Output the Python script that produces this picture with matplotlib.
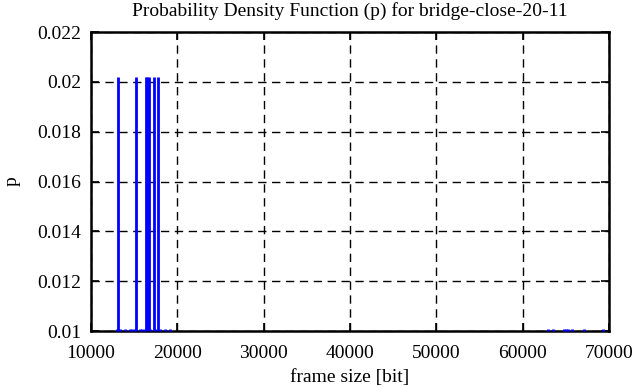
import numpy as np
import matplotlib.pyplot as plt

plt.rcParams['font.family'] = ['Liberation Serif', 'DejaVu Serif']

# frame sizes with a visible probability spike
frame_sizes = [13160, 15210, 16370, 16540, 16680, 17260, 17800]
probs = [0.0202, 0.0202, 0.0202, 0.0202, 0.0202, 0.0202, 0.0202]

# rare frame sizes, probability below the visible range
rare_sizes = [13010, 13360, 13940, 14520, 14800, 15100, 15680, 15900, 16260,
              16830, 17410, 17990, 18570, 19150,
              62940, 63510, 64790, 65000, 65250, 65710, 67100, 69300]
rare_probs = [0.0005] * len(rare_sizes)

xticks = [10000, 20000, 30000, 40000, 50000, 60000, 70000]
yticks = [0.01, 0.012, 0.014, 0.016, 0.018, 0.02, 0.022]

fig = plt.figure(figsize=(6.37, 3.87), dpi=100)
ax = fig.add_axes([0.1429, 0.1447, 0.8131, 0.7723])

ymin, ymax = 0.01, 0.022
ax.vlines(frame_sizes, 0, probs, color='#0000ff', lw=2, zorder=3)
# gnuplot leaves a small stub on the border for clipped impulses
stub = (ymax - ymin) * 0.008
ax.vlines(rare_sizes, ymin, ymin + stub, color='#0000ff', lw=2,
          zorder=3, clip_on=False)

ax.set_xlim(10000, 70000)
ax.set_ylim(ymin, ymax)
ax.set_xticks(xticks)
ax.set_yticks(yticks)
ax.set_yticklabels(['0.01', '0.012', '0.014', '0.016', '0.018', '0.02', '0.022'])
ax.grid(True, color='black', linestyle=(0, (6, 4)), linewidth=1)
ax.tick_params(direction='in', length=6, width=1.2, top=True, right=True,
               labelsize=14)
ax.tick_params(axis='x', pad=10)
ax.tick_params(axis='y', pad=7)
for s in ax.spines.values():
    s.set_linewidth(1.8)

ax.set_title('Probability Density Function (p) for bridge-close-20-11',
             fontsize=14, pad=12)
ax.set_xlabel('frame size [bit]', fontsize=14, labelpad=5)
ax.set_ylabel('p', fontsize=14, labelpad=12)

plt.savefig('out.png', dpi=100)
